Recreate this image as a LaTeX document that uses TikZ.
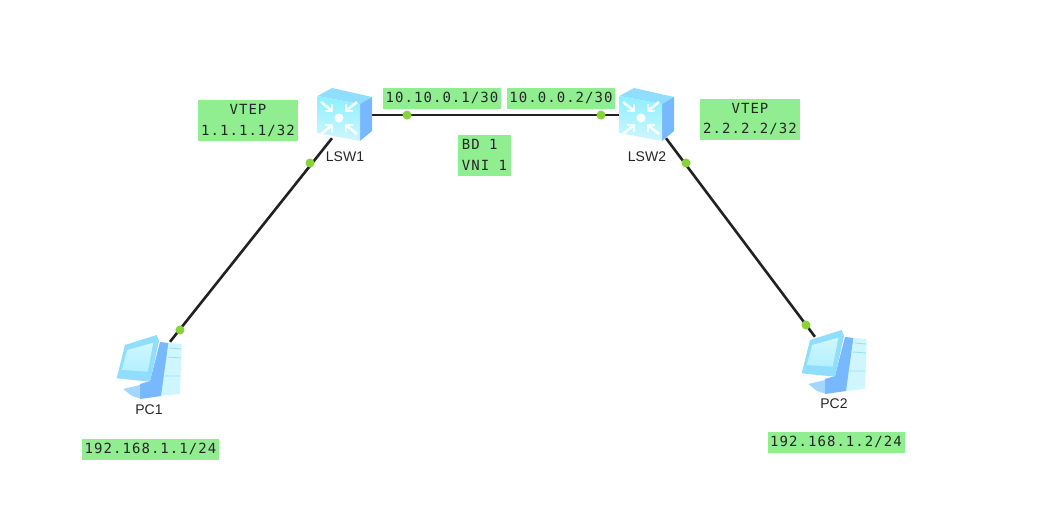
\documentclass[tikz,border=0pt]{standalone}
\usepackage{fontspec}
\setmainfont{Liberation Sans}
\newfontfamily\labelmono[LetterSpace=7.5]{DejaVu Sans Mono}
\definecolor{lab}{HTML}{90EE90}
\definecolor{dotg}{HTML}{86D33A}
\definecolor{icoA}{HTML}{B4F0FF}
\definecolor{icoB}{HTML}{8FDDFF}
\definecolor{icoC}{HTML}{78B8FF}
\definecolor{icoD}{HTML}{CFF6FF}
\definecolor{icoE}{HTML}{8CF0FF}
\definecolor{icoF}{HTML}{A5D6FF}
\definecolor{wire}{HTML}{222222}
\tikzset{
  x=1pt,y=-1pt,
  tag/.style={fill=lab,inner sep=0pt,align=center,font=\labelmono\fontsize{14}{20.5}\selectfont,text=black!85},
  devname/.style={font=\fontsize{14}{16}\selectfont,text=black!85,inner sep=0pt},
  anchorbox/.style={minimum width=#1,inner sep=0pt},
  wirestyle/.style={draw=wire,line width=2.6pt},
  port/.style={circle,fill=dotg,inner sep=0pt,minimum size=9pt},
}
\newcommand{\switchicon}[2]{%
  \begin{scope}[shift={(#1,#2)}]
    \fill[icoB] (-27.5,-17) -- (-13,-25) -- (27,-16) -- (15,-9) -- cycle;
    \fill[icoC] (15,-9) -- (27,-16) -- (27,18) -- (15,28) -- cycle;
    \shade[top color=icoE,bottom color=icoD] (-27.5,-17) -- (15,-9) -- (15,28) -- (-27.5,20) -- cycle;
    \fill[white] (-6,5) circle (4.5);
    \foreach \sx/\sy in {1/1,-1/1,1/-1,-1/-1}{
      \begin{scope}[shift={(-6,5)},xscale=\sx,yscale=\sy]
        \draw[white,line width=2.2pt,opacity=.9] (7,14) -- (7,7) -- (14,7);
        \draw[white,line width=2.6pt,opacity=.9] (8,8) -- (18,16);
      \end{scope}}
  \end{scope}}
\newcommand{\pcicon}[2]{%
  \begin{scope}[shift={(#1,#2)}]
    \fill[icoD] (17.7,-26.3) -- (31.7,-25) -- (30,25) -- (9,27) -- cycle;
    \draw[icoB,line width=.8pt] (20,-21) -- (31,-20) (18,-12) -- (31,-11) (15,7) -- (30,7);
    \fill[icoC] (10,-27) -- (18.3,-26) -- (11,27) -- (-10,30) -- (-10,15) -- (0,12) -- cycle;
    \fill[icoF] (-26.7,20) -- (-10,16) -- (-10,29.5) -- (-18,27) -- cycle;
    \fill[icoB] (-33.3,9.3) -- (-25,-24) -- (6.7,-34) -- (9,-28) -- (0,12.7) -- cycle;
    \shade[top color=icoD,bottom color=icoA] (-28.3,1) -- (-22.7,-19) -- (3.3,-26.3) -- (-2.3,2.7) -- cycle;
  \end{scope}}
\begin{document}
\begin{tikzpicture}
\useasboundingbox (0,0) rectangle (1055,525);
\fill[white] (0,0) rectangle (1055,525);
% devices
\node[anchorbox=54pt,minimum height=48pt] (sw1) at (345,113) {};
\node[anchorbox=54pt,minimum height=48pt] (sw2) at (647,113) {};
\node[anchorbox=66pt,minimum height=54pt] (pc1) at (150,369) {};
\node[anchorbox=66pt,minimum height=54pt] (pc2) at (835,364) {};
% connectors
\draw[wirestyle] ([yshift=-2pt]sw1.east) -- ([yshift=-2pt]sw2.west);
\draw[wirestyle] ([xshift=-13pt,yshift=-1pt]sw1.south) -- ([xshift=20pt,yshift=0pt]pc1.north);
\draw[wirestyle] ([xshift=19pt,yshift=-1pt]sw2.south) -- ([xshift=-20pt,yshift=0pt]pc2.north);
% icons
\switchicon{345}{113}
\switchicon{647}{113}
\pcicon{150}{369}
\pcicon{835}{364}
\node[port] (p1) at (407,115) {};
\node[port] (p2) at (601,115) {};
\node[port] (p3) at (310,163) {};
\node[port] (p4) at (180,330) {};
\node[port] (p5) at (686,163) {};
\node[port] (p6) at (806,325) {};
% names
\node[devname] (n1) at (345,157) {LSW1};
\node[devname] (n2) at (647,157) {LSW2};
\node[devname] (n3) at (149,410) {PC1};
\node[devname] (n4) at (834,404) {PC2};
% tags
\node[tag,minimum width=100pt,minimum height=41pt] (t1) at (248,120.5) {VTEP\\1.1.1.1/32};
\node[tag,minimum width=100pt,minimum height=41pt] (t2) at (750,119) {VTEP\\2.2.2.2/32};
\node[tag,minimum width=118pt,minimum height=21pt] (t3) at (442,98) {10.10.0.1/30};
\node[tag,minimum width=108pt,minimum height=21pt] (t4) at (561,98) {10.0.0.2/30};
\node[tag,minimum width=53pt,minimum height=41pt,align=left] (t5) at (484.5,155) {BD 1\\VNI 1};
\node[tag,minimum width=137pt,minimum height=21pt] (t6) at (150.5,449) {192.168.1.1/24};
\node[tag,minimum width=137pt,minimum height=21pt] (t7) at (836,442) {192.168.1.2/24};
\end{tikzpicture}
\end{document}
